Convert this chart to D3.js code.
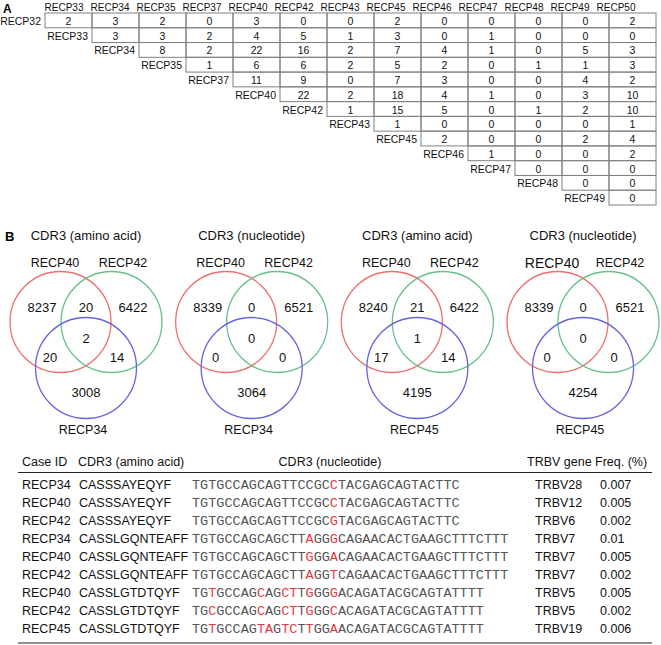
<!DOCTYPE html>
<html><head><meta charset="utf-8">
<script src="https://cdn.jsdelivr.net/npm/d3@7"></script>
<style>body{margin:0;background:#fff}</style>
</head><body>
<svg id="chart" width="661" height="645"></svg>
<script>
// ---------- Panel A data ----------
const colIds = ["RECP33","RECP34","RECP35","RECP37","RECP40","RECP42","RECP43","RECP45","RECP46","RECP47","RECP48","RECP49","RECP50"];
const rowIds = ["RECP32","RECP33","RECP34","RECP35","RECP37","RECP40","RECP42","RECP43","RECP45","RECP46","RECP47","RECP48","RECP49"];
const overlapCounts = [
  [2,3,2,0,3,0,0,2,0,0,0,0,2],
  [3,3,2,4,5,1,3,0,1,0,0,0],
  [8,2,22,16,2,7,4,1,0,5,3],
  [1,6,6,2,5,2,0,1,1,3],
  [11,9,0,7,3,0,0,4,2],
  [22,2,18,4,1,0,3,10],
  [1,15,5,0,1,2,10],
  [1,0,0,0,0,1],
  [2,0,0,2,4],
  [1,0,0,2],
  [0,0,0],
  [0,0],
  [0]
];
// ---------- Panel B Venn data ----------
const vennTitles = ["CDR3 (amino acid)","CDR3 (nucleotide)","CDR3 (amino acid)","CDR3 (nucleotide)"];
const vennSetA = ["RECP40","RECP40","RECP40","RECP40"];
const vennSetB = ["RECP42","RECP42","RECP42","RECP42"];
const vennSetC = ["RECP34","RECP34","RECP45","RECP45"];
// order: onlyA, AB, onlyB, ABC, AC, BC, onlyC
const vennCounts = [
  [8237,20,6422,2,20,14,3008],
  [8339,0,6521,0,0,0,3064],
  [8240,21,6422,1,17,14,4195],
  [8339,0,6521,0,0,0,4254]
];
const vennColors = ["#ee7070","#68c088","#6464e2"];
// ---------- Panel B table data ----------
const caseIds = ["RECP34","RECP40","RECP42","RECP34","RECP40","RECP42","RECP40","RECP42","RECP45"];
const aminoAcids = ["CASSSAYEQYF","CASSSAYEQYF","CASSSAYEQYF","CASSLGQNTEAFF","CASSLGQNTEAFF","CASSLGQNTEAFF","CASSLGTDTQYF","CASSLGTDTQYF","CASSLGTDTQYF"];
const nucleotides = [
  "TGTGCCAGCAGTTCCGCCTACGAGCAGTACTTC",
  "TGTGCCAGCAGTTCCGCCTACGAGCAGTACTTC",
  "TGTGCCAGCAGTTCCGCGTACGAGCAGTACTTC",
  "TGTGCCAGCAGCTTAGGGCAGAACACTGAAGCTTTCTTT",
  "TGTGCCAGCAGCTTGGGACAGAACACTGAAGCTTTCTTT",
  "TGTGCCAGCAGCTTAGGTCAGAACACTGAAGCTTTCTTT",
  "TGTGCCAGCAGCTTGGGGACAGATACGCAGTATTTT",
  "TGCGCCAGCAGCTTGGGCACAGATACGCAGTATTTT",
  "TGTGCCAGTAGTCTTGGAACAGATACGCAGTATTTT"
];
const redPositions = [[18],[18],[18],[15,18],[15,18],[15,18],[3,9,12,13,15,18],[3,9,12,13,15,18],[3,9,10,12,13,15,18]];
const trbvGenes = ["TRBV28","TRBV12","TRBV6","TRBV7","TRBV7","TRBV7","TRBV5","TRBV5","TRBV19"];
const freqs = ["0.007","0.005","0.002","0.01","0.005","0.002","0.005","0.002","0.006"];
const tableHeaders = ["Case ID","CDR3 (amino acid)","CDR3 (nucleotide)","TRBV gene","Freq. (%)"];

const svg = d3.select("#chart");
const sans = "Liberation Sans, Arial, Helvetica, sans-serif";
const mono = "Courier New, Liberation Mono, monospace";

// ===== Panel A =====
svg.append("text").attr("x",3).attr("y",13).attr("font-family",sans).attr("font-weight","bold").attr("font-size",12).text("A");
const xCell = d3.scaleLinear().domain([0,13]).range([45,656]);
const yRow = d3.scaleLinear().domain([0,13]).range([13,205]);
const xHead = d3.scalePoint().domain(colIds).range([64,616]);
const gA = svg.append("g").attr("font-family",sans).attr("font-size",10.5).attr("fill","#111");
gA.selectAll("text.head").data(colIds).join("text").attr("class","head")
  .attr("x",d=>xHead(d)).attr("y",7).attr("text-anchor","middle").attr("dominant-baseline","central")
  .attr("font-size",10).text(d=>d);
const cells = [];
overlapCounts.forEach((row,i)=>row.forEach((v,k)=>cells.push({i, j:i+k, v})));
gA.selectAll("rect.cell").data(cells).join("rect").attr("class","cell")
  .attr("x",d=>xCell(d.j)).attr("y",d=>yRow(d.i))
  .attr("width",d=>xCell(d.j+1)-xCell(d.j)).attr("height",d=>yRow(d.i+1)-yRow(d.i))
  .attr("fill","none").attr("stroke","#808080").attr("stroke-width",1);
gA.selectAll("text.val").data(cells).join("text").attr("class","val")
  .attr("x",d=>(xCell(d.j)+xCell(d.j+1))/2).attr("y",d=>(yRow(d.i)+yRow(d.i+1))/2+0.5)
  .attr("text-anchor","middle").attr("dominant-baseline","central").text(d=>d.v);
gA.selectAll("text.rlab").data(rowIds).join("text").attr("class","rlab")
  .attr("x",(d,i)=>xCell(i)-4).attr("y",(d,i)=>(yRow(i)+yRow(i+1))/2+0.5)
  .attr("text-anchor","end").attr("dominant-baseline","central").text(d=>d);

// ===== Panel B Venns =====
svg.append("text").attr("x",5).attr("y",241).attr("font-family",sans).attr("font-weight","bold").attr("font-size",13).text("B");
const xVenn = d3.scalePoint().domain(d3.range(4)).range([86,583]);
const r = 50.5;
const gV = svg.append("g").attr("font-family",sans).attr("fill","#111");
vennCounts.forEach((counts,k)=>{
  const cx = xVenn(k);
  const g = gV.append("g");
  g.append("text").attr("x",cx).attr("y",235).attr("text-anchor","middle").attr("dominant-baseline","central").attr("font-size",13).text(vennTitles[k]);
  const circles = [{x:cx-25.5,y:322},{x:cx+25.5,y:322},{x:cx,y:368}];
  g.selectAll("circle").data(circles).join("circle").attr("cx",d=>d.x).attr("cy",d=>d.y).attr("r",r)
    .attr("fill","none").attr("stroke",(d,i)=>vennColors[i]).attr("stroke-width",1.3);
  g.append("text").attr("x",cx-31).attr("y",263).attr("text-anchor","middle").attr("dominant-baseline","central").attr("font-size",k===3?14:12.5).text(vennSetA[k]);
  g.append("text").attr("x",cx+37).attr("y",263).attr("text-anchor","middle").attr("dominant-baseline","central").attr("font-size",12.5).text(vennSetB[k]);
  g.append("text").attr("x",cx-3).attr("y",430).attr("text-anchor","middle").attr("dominant-baseline","central").attr("font-size",12.5).text(vennSetC[k]);
  const pos = [[-44,307],[0,307],[47,307],[0,338],[-36,357],[31,357],[0,392]];
  g.selectAll("text.num").data(counts).join("text").attr("class","num")
    .attr("x",(d,i)=>cx+pos[i][0]).attr("y",(d,i)=>pos[i][1]).attr("text-anchor","middle").attr("dominant-baseline","central")
    .attr("font-size",13).text(d=>d);
});

// ===== Panel B table =====
const gT = svg.append("g").attr("font-family",sans).attr("fill","#111");
const colX = [22,79,192,535,600];
const headX = [22,78,330,527,595];
const yT = d3.scaleLinear().domain([0,8]).range([485,629]);
gT.selectAll("text.th").data(tableHeaders).join("text").attr("class","th")
  .attr("x",(d,i)=>headX[i]).attr("y",462).attr("text-anchor",(d,i)=>i===2?"middle":"start")
  .attr("dominant-baseline","central").attr("font-size",12.5).text(d=>d);
gT.append("line").attr("x1",18).attr("x2",652).attr("y1",472.5).attr("y2",472.5).attr("stroke","#222").attr("stroke-width",1.2);
gT.append("line").attr("x1",18).attr("x2",652).attr("y1",643).attr("y2",643).attr("stroke","#222").attr("stroke-width",1.2);
const rows = d3.range(caseIds.length);
gT.selectAll("text.c0").data(rows).join("text").attr("class","c0").attr("x",colX[0]).attr("y",i=>yT(i))
  .attr("dominant-baseline","central").attr("font-size",12.5).text(i=>caseIds[i]);
gT.selectAll("text.c1").data(rows).join("text").attr("class","c1").attr("x",colX[1]).attr("y",i=>yT(i))
  .attr("dominant-baseline","central").attr("font-size",12.5).text(i=>aminoAcids[i]);
gT.selectAll("text.c3").data(rows).join("text").attr("class","c3").attr("x",colX[3]).attr("y",i=>yT(i))
  .attr("dominant-baseline","central").attr("font-size",12.5).text(i=>trbvGenes[i]);
gT.selectAll("text.c4").data(rows).join("text").attr("class","c4").attr("x",colX[4]).attr("y",i=>yT(i))
  .attr("dominant-baseline","central").attr("font-size",12.5).text(i=>freqs[i]);
const nt = gT.selectAll("text.c2").data(rows).join("text").attr("class","c2").attr("x",colX[2]).attr("y",i=>yT(i))
  .attr("dominant-baseline","central").attr("font-family",mono).attr("font-size",13.5);
nt.each(function(i){
  const t = d3.select(this);
  nucleotides[i].split("").forEach((ch,p)=>{
    t.append("tspan").attr("fill",redPositions[i].includes(p+1)?"#e8383d":"#555").text(ch);
  });
});
</script>
</body></html>
